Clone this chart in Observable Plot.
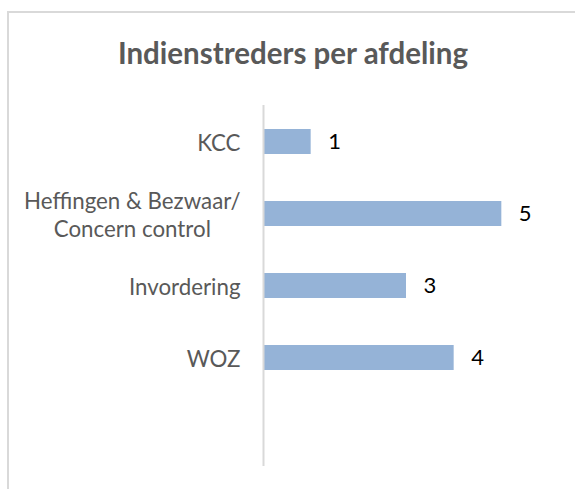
<!DOCTYPE html>
<html>
<head>
<meta charset="utf-8">
<script src="https://cdn.jsdelivr.net/npm/d3@7"></script>
<script src="https://cdn.jsdelivr.net/npm/@observablehq/plot@0.6"></script>
<style>
  html, body { margin: 0; padding: 0; background: #fff; }
  #wrap { position: relative; width: 575px; height: 489px; overflow: hidden; background: #fff; }
  #border { position: absolute; left: 7px; top: 11px; width: 700px; height: 700px; border: 2px solid #d9d9d9; box-sizing: border-box; }
  #title { position: absolute; left: 0; top: 38px; width: 586px; text-align: center; font-family: Lato, "Open Sans", sans-serif; font-weight: bold; font-size: 29.5px; color: #595959; line-height: 1; }
  #chart { position: absolute; left: 0; top: 0; }
</style>
</head>
<body>
<div id="wrap">
  <div id="border"></div>
  <div id="title">Indienstreders per afdeling</div>
  <div id="chart"></div>
</div>
<script>
const title = "Indienstreders per afdeling";
const categories = ["KCC", "Heffingen & Bezwaar/\nConcern control", "Invordering", "WOZ"];
const values = [1, 5, 3, 4];
// Excel axis leaves one empty category slot below the last bar
const axisSlots = [...categories, ""];
const xMax = 6;

const data = categories.map((c, i) => ({category: c, value: values[i]}));

const font = 'Lato, "Open Sans", sans-serif';

const plot = Plot.plot({
  width: 575,
  height: 489,
  marginLeft: 263,
  marginRight: 26,
  marginTop: 105,
  marginBottom: 23,
  style: {fontFamily: font, fontSize: "22px", background: "transparent", overflow: "visible"},
  x: {domain: [0, xMax], axis: null},
  y: {domain: axisSlots, paddingInner: 0.647, paddingOuter: 0.3235, label: null},
  marks: [
    Plot.barX(data, {x: "value", y: "category", fill: "#95B3D7"}),
    Plot.ruleX([0], {stroke: "#d9d9d9", strokeWidth: 2}),
    Plot.axisY({tickSize: 0, tickPadding: 23, fill: "#595959", fontSize: 22.3, lineHeight: 1.25, label: null}),
    Plot.text(data, {x: "value", y: "category", text: d => String(d.value), textAnchor: "start", dx: 17, fill: "#000", fontSize: 22})
  ]
});

document.getElementById("chart").appendChild(plot);

// center wrapped tick labels on their longest line, as the original does
plot.querySelectorAll('g[aria-label="y-axis tick label"] text').forEach(t => {
  const spans = t.querySelectorAll("tspan");
  if (spans.length > 1) {
    let maxW = 0;
    spans.forEach(s => { maxW = Math.max(maxW, s.getComputedTextLength()); });
    t.setAttribute("text-anchor", "middle");
    spans.forEach(s => s.setAttribute("x", -maxW / 2));
  }
});
</script>
</body>
</html>
